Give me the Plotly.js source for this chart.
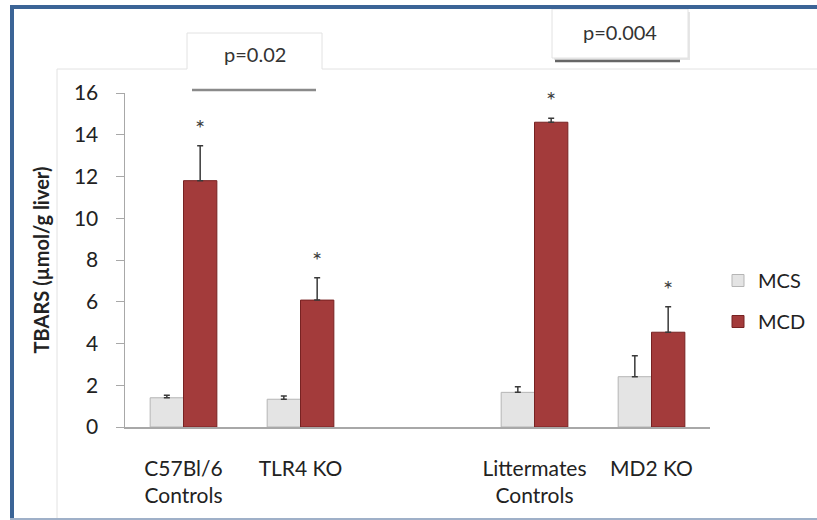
<!DOCTYPE html>
<html>
<head>
<meta charset="utf-8">
<script src="https://cdn.plot.ly/plotly-3.0.1.min.js"></script>
<style>
html,body{margin:0;padding:0;background:#fff;overflow:hidden;}
#wrap{position:relative;width:817px;height:520px;overflow:hidden;}
#chart{position:absolute;left:0;top:0;width:817px;height:520px;}
.frame{position:absolute;pointer-events:none;}
#ftop{left:10px;top:5px;width:807px;height:4px;background:#3b6496;}
#fleft{left:10px;top:5px;width:4px;height:515px;background:#3b6496;}
#fbot{left:10px;top:518px;width:807px;height:2px;background:#9fb0c8;}
</style>
</head>
<body>
<div id="wrap">
<div id="chart"></div>
<div class="frame" id="ftop"></div>
<div class="frame" id="fleft"></div>
<div class="frame" id="fbot"></div>
</div>
<script>
// ---- data ----
const groupPos = [0, 1, 3, 4];
const groupLabels = ["C57Bl/6<br>Controls", "TLR4 KO", "Littermates<br>Controls", "MD2 KO"];
const mcsValues = [1.40, 1.33, 1.66, 2.41];
const mcsErrors = [0.12, 0.15, 0.27, 1.00];
const mcdValues = [11.80, 6.08, 14.60, 4.54];
const mcdErrors = [1.67, 1.07, 0.19, 1.22];
const seriesNames = ["MCS", "MCD"];
const pLabels = ["p=0.02", "p=0.004"];

// ---- layout helpers (pixel -> paper) ----
const L = 125, R = 107, T = 93, B = 93, W = 817, H = 520;
const PW = W - L - R, PH = H - T - B;
const px = v => (v - L) / PW;
const py = v => (H - B - v) / PH;
const FONT = "Lato, 'Open Sans', 'DejaVu Sans', sans-serif";
const bargap = 0.43;
const mcdOffset = (1 - bargap) / 4;

const errStyle = {type: 'data', symmetric: false, color: '#3a3a3a', thickness: 1.5, width: 3};

const traces = [
  {
    type: 'bar', name: seriesNames[0], x: groupPos, y: mcsValues,
    marker: {color: '#e4e4e4', line: {color: '#b5b5b5', width: 1}},
    error_y: Object.assign({array: mcsErrors, arrayminus: mcsErrors.map(() => 0)}, errStyle),
    legendgroup: 'a', hoverinfo: 'y'
  },
  {
    type: 'bar', name: seriesNames[1], x: groupPos, y: mcdValues,
    marker: {color: '#a33b3b', line: {color: '#772222', width: 1}},
    error_y: Object.assign({array: mcdErrors, arrayminus: mcdErrors.map(() => 0)}, errStyle),
    legendgroup: 'b', hoverinfo: 'y'
  }
];

const annotations = groupPos.map((g, i) => ({
  x: g + mcdOffset, y: mcdValues[i] + mcdErrors[i], xref: 'x', yref: 'y',
  text: '*', showarrow: false, xanchor: 'center', yanchor: 'bottom', yshift: 2,
  font: {family: FONT, size: 24, color: '#404040'}
}));
annotations.push(
  {x: px(255), y: py(54), xref: 'paper', yref: 'paper', xanchor: 'center', yanchor: 'middle',
   text: pLabels[0], showarrow: false, font: {family: FONT, size: 20, color: '#333'}},
  {x: px(620), y: py(32), xref: 'paper', yref: 'paper', xanchor: 'center', yanchor: 'middle',
   text: pLabels[1], showarrow: false, font: {family: FONT, size: 20, color: '#333'}}
);

const gridGrey = '#e2e2e2';
const shapes = [
  // chart area border
  {type: 'line', xref: 'paper', yref: 'paper', x0: px(57), x1: px(57), y0: py(69), y1: py(518), line: {color: gridGrey, width: 1}},
  {type: 'line', xref: 'paper', yref: 'paper', x0: px(57), x1: px(187), y0: py(69), y1: py(69), line: {color: gridGrey, width: 1}},
  {type: 'line', xref: 'paper', yref: 'paper', x0: px(322), x1: px(817), y0: py(69), y1: py(69), line: {color: gridGrey, width: 1}},
  // p=0.02 box
  {type: 'path', xref: 'paper', yref: 'paper',
   path: `M${px(187)},${py(69)} L${px(187)},${py(33)} L${px(322)},${py(33)} L${px(322)},${py(69)}`,
   line: {color: gridGrey, width: 1}},
  {type: 'line', xref: 'paper', yref: 'paper', x0: px(192), x1: px(316), y0: py(90), y1: py(90), line: {color: '#8a8a8a', width: 2.5}},
  // p=0.004 box with shadow
  {type: 'rect', xref: 'paper', yref: 'paper', x0: px(554), x1: px(690), y0: py(12), y1: py(60), fillcolor: '#e6e6e6', line: {width: 0}, layer: 'below'},
  {type: 'rect', xref: 'paper', yref: 'paper', x0: px(552), x1: px(688), y0: py(9), y1: py(58), fillcolor: '#ffffff', line: {color: gridGrey, width: 1}, layer: 'below'},
  {type: 'line', xref: 'paper', yref: 'paper', x0: px(555), x1: px(680), y0: py(61), y1: py(61), line: {color: '#666666', width: 2.5}}
];

const layout = {
  width: W, height: H,
  margin: {l: L, r: R, t: T, b: B, autoexpand: false},
  paper_bgcolor: '#ffffff', plot_bgcolor: '#ffffff',
  font: {family: FONT, color: '#222', size: 19},
  barmode: 'group', bargap: bargap, bargroupgap: 0,
  showlegend: true,
  legend: {x: px(718), y: py(261), xanchor: 'left', yanchor: 'top',
           traceorder: 'grouped', tracegroupgap: 12,
           font: {family: FONT, size: 20, color: '#222'}, bgcolor: 'rgba(0,0,0,0)'},
  xaxis: {
    range: [-0.5, 4.5], tickmode: 'array', tickvals: groupPos, ticktext: groupLabels,
    showline: true, linecolor: '#a8a8a8', linewidth: 1.5, ticks: '', showgrid: false, zeroline: false,
    ticklabelstandoff: 22, tickfont: {family: FONT, size: 21, color: '#222'}
  },
  yaxis: {
    range: [0, 16], dtick: 2, tick0: 0,
    showline: true, linecolor: '#a8a8a8', linewidth: 1.5, ticks: 'outside', ticklen: 8, tickcolor: '#a8a8a8',
    showgrid: false, zeroline: false, ticklabelstandoff: 13,
    tickfont: {family: FONT, size: 21, color: '#222'},
    title: {text: '<b>TBARS (µmol/g liver)</b>', standoff: 19, font: {family: FONT, size: 20, color: '#222'}}
  },
  shapes: shapes,
  annotations: annotations
};

Plotly.newPlot('chart', traces, layout, {displayModeBar: false, staticPlot: true});
</script>
</body>
</html>
